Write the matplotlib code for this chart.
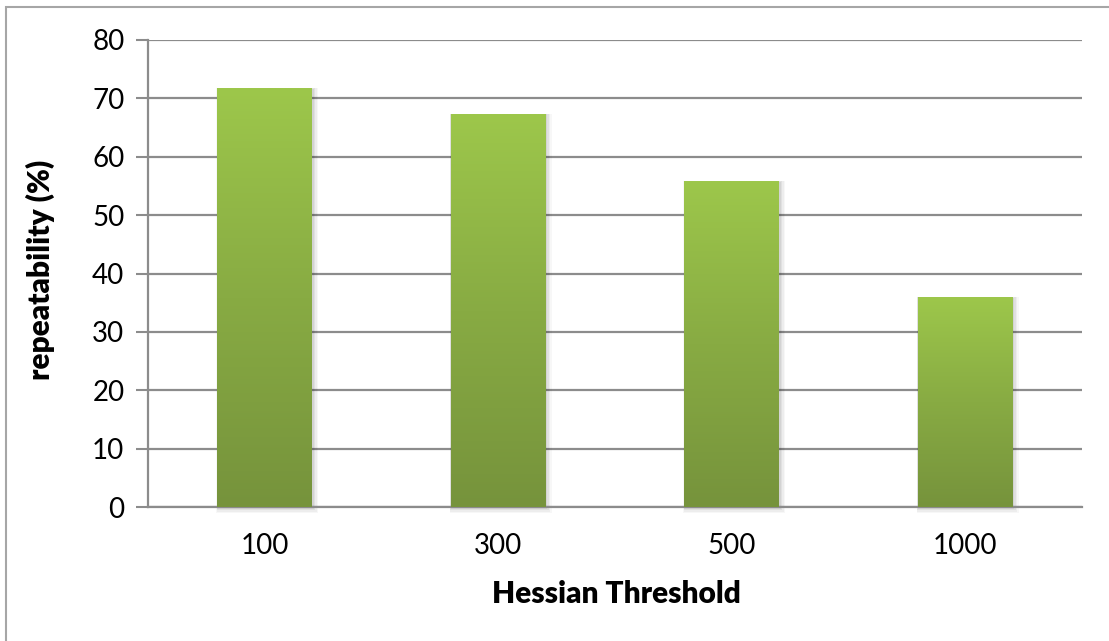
import numpy as np
import matplotlib
matplotlib.use("Agg")
import matplotlib.pyplot as plt
from matplotlib.colors import LinearSegmentedColormap
from matplotlib.patches import Rectangle

# Data
thresholds = ["100", "300", "500", "1000"]
repeatability = [71.7, 67.3, 55.8, 35.9]
y_ticks = [0, 10, 20, 30, 40, 50, 60, 70, 80]

W, H = 1109, 641
fig = plt.figure(figsize=(W / 100, H / 100), dpi=100)
fig.patch.set_facecolor("white")

# outer chart frame (extends past the right and bottom edges)
fig.add_artist(Rectangle((6 / W, -0.1), 1.2, (H - 7) / H + 0.1,
                         transform=fig.transFigure, fill=False,
                         edgecolor="#a6a6a6", linewidth=1.5))

ax = fig.add_axes([148 / W, 1 - 507 / H, (1082 - 148) / W, (507 - 40) / H])
font = "Lato"

x = np.arange(len(thresholds))
bars = ax.bar(x, repeatability, width=0.405, color="none", zorder=3)
ax.set_xlim(-0.5, len(thresholds) - 0.5)
ax.set_ylim(0, 80)

cmap = LinearSegmentedColormap.from_list("grn", ["#76933c", "#88ab43", "#9dc74b"])
grad = np.linspace(0, 1, 256).reshape(-1, 1)
for b in bars:
    x0, w, h = b.get_x(), b.get_width(), b.get_height()
    # soft shadow
    for k, a in enumerate([0.06, 0.05, 0.04, 0.03]):
        d = 0.004 * (k + 1)
        ax.add_patch(Rectangle((x0 - d * 0.3, -0.1 - d * 60), w + d * 2.0, h + d * 72,
                               facecolor="black", alpha=a, edgecolor="none",
                               zorder=2, clip_on=False))
    ax.imshow(grad, extent=(x0, x0 + w, 0, h), origin="lower", cmap=cmap,
              aspect="auto", zorder=4, interpolation="bilinear")
ax.set_xlim(-0.5, len(thresholds) - 0.5)
ax.set_ylim(0, 80)

ax.set_yticks(y_ticks)
ax.set_yticklabels([str(v) for v in y_ticks], fontsize=20, family=font)
ax.set_xticks(x)
ax.set_xticklabels(thresholds, fontsize=20, family=font)
ax.tick_params(axis="x", length=0, pad=19)
ax.tick_params(axis="y", length=9, width=1.5, color="#8c8c8c", pad=8)
ax.grid(axis="y", color="#8c8c8c", linewidth=1.6, zorder=1)
ax.set_axisbelow(True)
for s in ["top", "right"]:
    ax.spines[s].set_visible(False)
ax.spines["left"].set_color("#8c8c8c")
ax.spines["left"].set_linewidth(1.6)
ax.spines["bottom"].set_color("#8c8c8c")
ax.spines["bottom"].set_linewidth(1.6)

fig.text(40 / W, 1 - 270 / H, "repeatability (%)", rotation=90, ha="center",
         va="center", fontsize=21.5, fontweight="heavy", family=font)
fig.text(616 / W, 1 - 594 / H, "Hessian Threshold", ha="center", va="center",
         fontsize=21.5, fontweight="heavy", family=font)

fig.savefig("out.png", dpi=100, facecolor="white")
